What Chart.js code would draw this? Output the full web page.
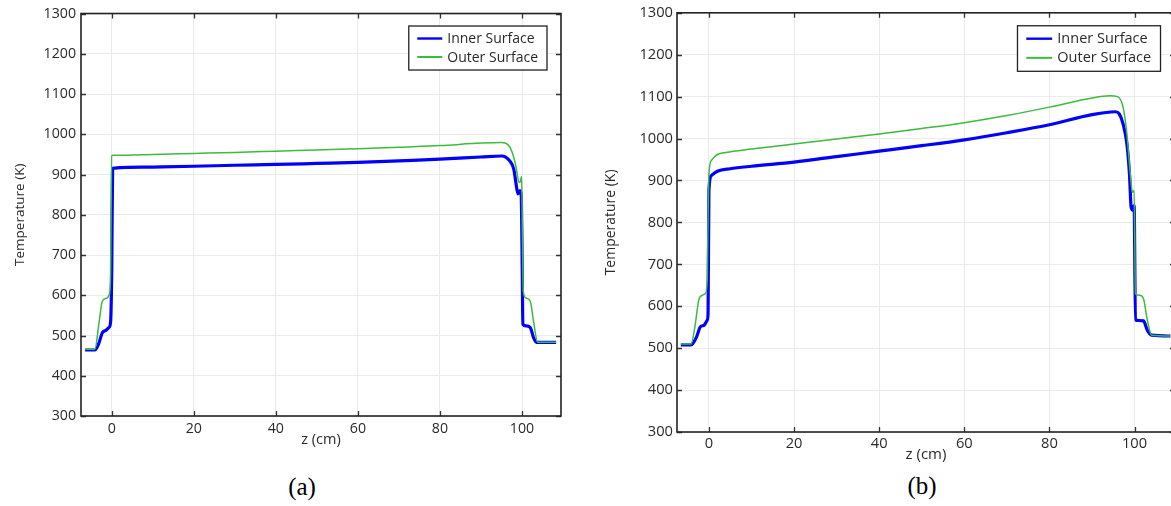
<!DOCTYPE html>
<html>
<head>
<meta charset="utf-8">
<script src="https://cdn.jsdelivr.net/npm/chart.js@4"></script>
<style>
  html, body { margin: 0; padding: 0; background: #fff; width: 1171px; height: 506px; overflow: hidden; }
  .plot { position: absolute; top: 0; }
  #plotA { left: 0; }
  #plotB { left: 590px; }
  .cap { position: absolute; font-family: "Liberation Serif", "Times New Roman", serif; font-size: 25px; color: #000; transform: translateX(-50%); line-height: 1; }
</style>
</head>
<body>
<canvas id="plotA" class="plot" width="580" height="450"></canvas>
<canvas id="plotB" class="plot" width="600" height="465"></canvas>
<div class="cap" style="left:302px; top:474px;">(a)</div>
<div class="cap" style="left:922px; top:473px;">(b)</div>
<script>
// axis ranges and ticks (z in cm, T in K)
const zMin = -7.5, zMax = 109.5;
const tMin = 300, tMax = 1300;
const zTicks = [0, 20, 40, 60, 80, 100];
const tTicks = [300, 400, 500, 600, 700, 800, 900, 1000, 1100, 1200, 1300];

// case (a)
const zInnerA = [-6.5, -4.1, -3.2, -2.3, -1.4, -0.7, -0.3, 0, 0.2, 0.5, 2, 10, 20, 30, 40, 50, 60, 70, 80, 90, 95, 96, 97, 98, 98.5, 99, 99.5, 99.8, 100.05, 100.2, 101, 102, 102.8, 103.5, 108.3];
const tInnerA = [464, 464, 479, 507, 513, 520, 532, 667, 913, 916, 917, 918.5, 920.5, 923, 925, 927.5, 930, 934, 938, 943.5, 946, 943.5, 934, 913, 880, 852, 860, 848, 667, 528, 524, 520, 495, 483, 483];
const zOuterA = [-6.5, -4.1, -3.2, -2.3, -1.4, -0.6, -0.3, 0, 0.3, 10, 20, 30, 40, 50, 60, 70, 80, 90, 95, 96.5, 97.5, 98.5, 99.2, 99.5, 99.9, 100.1, 100.3, 101, 102, 102.8, 103.8, 108.3];
const tOuterA = [466, 466, 524, 585, 592, 602, 651, 947, 948, 950, 952.5, 955, 958, 961, 964, 968, 972, 978, 979.5, 975, 958, 921, 882, 880, 895, 749, 610, 593, 585, 536, 483, 483];

// case (b)
const zInnerB = [-6.6, -4.2, -2.9, -2.0, -1.1, -0.4, -0.2, 0, 0.6, 2, 5, 10, 20, 30, 40, 50, 60, 70, 80, 90, 95.5, 96.4, 97.3, 98.2, 98.8, 99.2, 99.6, 99.9, 100.2, 101, 102.1, 103, 104, 108.4];
const tInnerB = [508, 508, 527, 551, 555, 567, 583, 876, 912, 922, 928, 934, 944, 957, 970, 983, 997, 1014, 1033, 1057, 1064, 1059, 1035, 987, 916, 836, 829, 840, 567, 566, 565, 543, 531, 529];
const zOuterB = [-6.6, -4.2, -3.3, -2.4, -1.6, -0.85, -0.4, -0.25, 0, 0.6, 2, 4, 10, 20, 30, 40, 50, 60, 70, 80, 90, 94.2, 96, 97.3, 98.2, 99, 99.5, 99.9, 100.2, 101.2, 102.1, 103, 104, 108.4];
const tOuterB = [510, 510, 551, 614, 626, 630, 662, 773, 916, 948, 962, 967, 975, 987, 999, 1011, 1024, 1038, 1055, 1075, 1097, 1102, 1100, 1075, 1011, 916, 872, 876, 630, 626, 618, 567, 531, 529];

const seriesNames = ['Inner Surface', 'Outer Surface'];
const seriesColors = ['#0000ff', '#3cbb3c'];
const seriesWidths = [3.2, 1.5];
const legendWidths = [2.4, 2];
const FONT = 'Open Sans';

// plot frame with inward tick marks on all four sides
const frameTicks = {
  id: 'frameTicks',
  afterDatasetsDraw(chart) {
    const { ctx, chartArea: a, scales: { x, y } } = chart;
    const len = 5;
    ctx.save();
    ctx.strokeStyle = '#333';
    ctx.lineWidth = 1.3;
    ctx.beginPath();
    zTicks.forEach(v => {
      const px = Math.round(x.getPixelForValue(v)) + 0.5;
      ctx.moveTo(px, a.bottom); ctx.lineTo(px, a.bottom - len);
      ctx.moveTo(px, a.top); ctx.lineTo(px, a.top + len);
    });
    tTicks.forEach(v => {
      const py = Math.round(y.getPixelForValue(v)) + 0.5;
      ctx.moveTo(a.left, py); ctx.lineTo(a.left + len, py);
      ctx.moveTo(a.right, py); ctx.lineTo(a.right - len, py);
    });
    ctx.stroke();
    ctx.lineWidth = 1.6;
    ctx.strokeStyle = '#222';
    ctx.strokeRect(a.left, a.top, a.right - a.left, a.bottom - a.top);
    ctx.restore();
  }
};

// boxed legend in the top right corner of the plot
const boxLegend = {
  id: 'boxLegend',
  afterDraw(chart, args, opts) {
    const { ctx, chartArea: a } = chart;
    const k = opts.k || 1;
    ctx.save();
    ctx.font = (14 * k) + 'px "' + FONT + '"';
    const textW = Math.max(...seriesNames.map(s => ctx.measureText(s).width));
    const lineLen = 25 * k, gap = 5 * k, padL = 8.5 * k, padR = 9 * k;
    const w = padL + lineLen + gap + textW + padR;
    const h = 44 * k;
    const right = a.right - 14 * k, top = a.top + 12.5 * k;
    const left = right - w;
    ctx.fillStyle = '#fff';
    ctx.fillRect(left, top, w, h);
    ctx.strokeStyle = '#222';
    ctx.lineWidth = 1.3;
    ctx.strokeRect(left, top, w, h);
    ctx.textBaseline = 'middle';
    seriesNames.forEach((name, i) => {
      const cy = top + (12.5 + i * 18.5) * k;
      ctx.strokeStyle = seriesColors[i];
      ctx.lineWidth = legendWidths[i];
      ctx.beginPath();
      ctx.moveTo(left + padL, cy); ctx.lineTo(left + padL + lineLen, cy);
      ctx.stroke();
      ctx.fillStyle = '#2a2a2a';
      ctx.fillText(name, left + padL + lineLen + gap, cy + 0.5);
    });
    ctx.restore();
  }
};

function buildChart(id, zIn, tIn, zOut, tOut, g) {
  const k = g.k;
  const tickFont = { family: FONT, size: 14.2 * k };
  const xTitleFont = { family: FONT, size: 14.5 * k };
  const yTitleFont = { family: FONT, size: 13.5 * k };
  const pts = (zs, ts) => zs.map((z, i) => ({ x: z, y: ts[i] }));
  return new Chart(document.getElementById(id), {
    type: 'line',
    data: {
      datasets: [
        { label: seriesNames[0], data: pts(zIn, tIn), borderColor: seriesColors[0], borderWidth: seriesWidths[0],
          pointRadius: 0, cubicInterpolationMode: 'monotone', order: 1 },
        { label: seriesNames[1], data: pts(zOut, tOut), borderColor: seriesColors[1], borderWidth: seriesWidths[1],
          pointRadius: 0, cubicInterpolationMode: 'monotone', order: 0 }
      ]
    },
    options: {
      responsive: false,
      animation: false,
      events: [],
      layout: { padding: { top: g.top, right: g.right, left: 0, bottom: 0 } },
      plugins: { legend: { display: false }, tooltip: { enabled: false }, boxLegend: { k } },
      scales: {
        x: {
          type: 'linear', min: zMin, max: zMax,
          afterBuildTicks: s => { s.ticks = zTicks.map(v => ({ value: v })); },
          afterFit: s => { s.height = g.xAxisH; },
          grid: { color: '#ebebeb', drawTicks: false },
          border: { display: false },
          ticks: { font: tickFont, color: '#2a2a2a', padding: g.xPad, maxRotation: 0, callback: v => String(v) },
          title: { display: true, text: 'z (cm)', font: xTitleFont, color: '#2a2a2a', padding: { top: 0, bottom: g.xTitlePad } }
        },
        y: {
          type: 'linear', min: tMin, max: tMax,
          afterBuildTicks: s => { s.ticks = tTicks.map(v => ({ value: v })); },
          afterFit: s => { s.width = g.yAxisW; },
          grid: { color: '#ebebeb', drawTicks: false },
          border: { display: false },
          ticks: { font: tickFont, color: '#2a2a2a', padding: g.yPad, callback: v => String(v) },
          title: { display: true, text: 'Temperature (K)', font: yTitleFont, color: '#2a2a2a', padding: { top: g.yTitlePad, bottom: 0 } }
        }
      }
    },
    plugins: [frameTicks, boxLegend]
  });
}

buildChart('plotA', zInnerA, tInnerA, zOuterA, tOuterA,
  { k: 1, top: 10, right: 19, xAxisH: 34, yAxisW: 81, xPad: 4, yPad: 5, xTitlePad: 1, yTitlePad: 12 });
buildChart('plotB', zInnerB, tInnerB, zOuterB, tOuterB,
  { k: 1.035, top: 12, right: 15, xAxisH: 33, yAxisW: 87, xPad: 3, yPad: 4, xTitlePad: 1, yTitlePad: 13 });
</script>
</body>
</html>
